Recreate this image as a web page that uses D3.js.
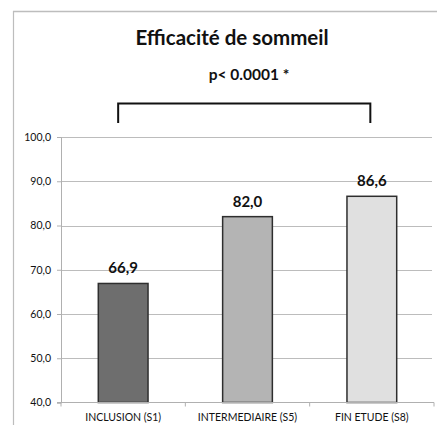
<!DOCTYPE html>
<html><head><meta charset="utf-8">
<script src="https://cdn.jsdelivr.net/npm/d3@7"></script>
<style>body{margin:0;background:#fff}svg{display:block}</style>
</head><body>
<script>
const categories = ["INCLUSION (S1)", "INTERMEDIAIRE (S5)", "FIN ETUDE (S8)"];
const values = [66.9, 82.0, 86.6];
const valueLabels = ["66,9", "82,0", "86,6"];
const barColors = ["#6e6e6e", "#b4b4b4", "#e0e0e0"];
const yTicks = [40, 50, 60, 70, 80, 90, 100];
const title = "Efficacité de sommeil";
const pLabel = "p< 0.0001 *";

const W = 437, H = 425;
const svg = d3.select("body").append("svg").attr("width", W).attr("height", H);
const font = "Lato, 'Open Sans', sans-serif";

// frame
svg.append("line").attr("x1", 13).attr("x2", W).attr("y1", 11.5).attr("y2", 11.5).attr("stroke", "#bdbdbd").attr("stroke-width", 1.5);
svg.append("line").attr("x1", 13.5).attr("x2", 13.5).attr("y1", 11).attr("y2", H).attr("stroke", "#bdbdbd").attr("stroke-width", 1.2);

const x = d3.scaleBand().domain(categories).range([61, 434]).paddingInner(0.6).paddingOuter(0.3);
const y = d3.scaleLinear().domain([40, 100]).range([402.5, 137]);

// gridlines
svg.append("g").selectAll("line").data(yTicks.slice(1)).join("line")
  .attr("x1", 61).attr("x2", 432)
  .attr("y1", d => Math.round(y(d)) + 0.5).attr("y2", d => Math.round(y(d)) + 0.5)
  .attr("stroke", "#bcbcbc").attr("stroke-width", 1);

// y axis
const yAxis = svg.append("g").attr("transform", "translate(61,0)")
  .call(d3.axisLeft(y).tickValues(yTicks).tickSize(4).tickFormat(d => d3.format(".1f")(d).replace(".", ",")));
yAxis.select(".domain").attr("stroke", "#b0b0b0");
yAxis.selectAll(".tick line").attr("stroke", "#b0b0b0");
yAxis.selectAll("text").attr("font-family", font).attr("font-size", 10.5).attr("fill", "#111").attr("x", -10);

// bars
svg.append("g").selectAll("rect").data(values).join("rect")
  .attr("x", (d, i) => x(categories[i]))
  .attr("width", x.bandwidth())
  .attr("y", d => y(d))
  .attr("height", d => y(40) - y(d))
  .attr("fill", (d, i) => barColors[i])
  .attr("stroke", "#2e2e2e").attr("stroke-width", 1.5);

// x axis
const xAxisG = svg.append("g").attr("transform", `translate(0,${y(40)})`);
xAxisG.append("line").attr("x1", 57).attr("x2", 434).attr("stroke", "#b0b0b0");
const bounds = [0, 1, 2, 3].map(i => 61 + i * (373 / 3));
xAxisG.selectAll(".tk").data(bounds).join("line").attr("class", "tk")
  .attr("x1", d => d).attr("x2", d => d).attr("y1", 0).attr("y2", 4).attr("stroke", "#b0b0b0");
xAxisG.selectAll("text").data(categories).join("text")
  .attr("x", d => x(d) + x.bandwidth() / 2).attr("y", 18)
  .attr("text-anchor", "middle").attr("font-family", font).attr("font-size", 10.5).attr("fill", "#111")
  .text(d => d);

// value labels
svg.append("g").selectAll("text").data(values).join("text")
  .attr("x", (d, i) => x(categories[i]) + x.bandwidth() / 2)
  .attr("y", d => y(d) - 10)
  .attr("text-anchor", "middle").attr("font-family", font).attr("font-weight", "bold")
  .attr("font-size", 15).attr("fill", "#111")
  .text((d, i) => valueLabels[i]);

// title
svg.append("text").attr("x", 232).attr("y", 45).attr("text-anchor", "middle")
  .attr("font-family", font).attr("font-weight", "bold").attr("font-size", 20.5).attr("fill", "#111").text(title);

// significance bracket
const xl = x(categories[0]) + x.bandwidth() / 2 - 5;
const xr = x(categories[2]) + x.bandwidth() / 2 - 1.5;
svg.append("path").attr("d", `M${xl},123V103.5H${xr}V123`).attr("fill", "none").attr("stroke", "#111").attr("stroke-width", 2);
svg.append("text").attr("x", 249).attr("y", 80).attr("text-anchor", "middle")
  .attr("font-family", font).attr("font-weight", "bold").attr("font-size", 15.5).attr("fill", "#111").text(pLabel);
</script>
</body></html>
